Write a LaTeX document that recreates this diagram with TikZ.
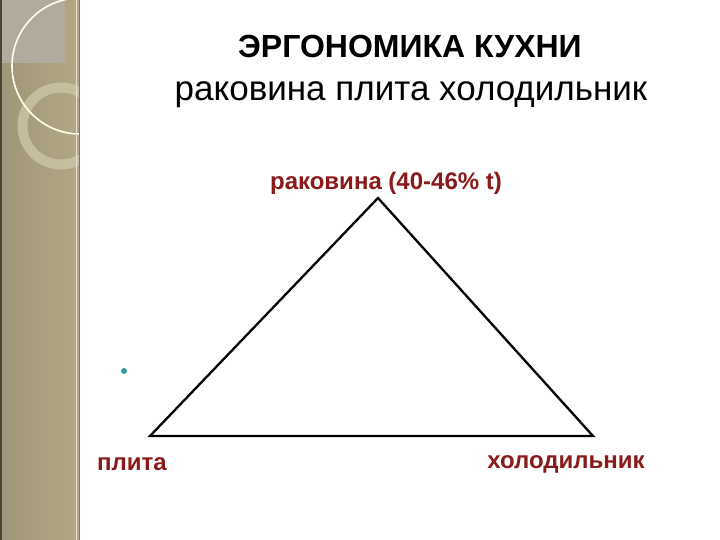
\documentclass[tikz,border=0pt]{standalone}
\usepackage{fontspec}
\setmainfont{Liberation Sans}
\definecolor{lbl}{HTML}{8B1A1A}
\definecolor{sidea}{HTML}{9F9678}
\definecolor{sideb}{HTML}{B3A785}
\definecolor{sidetop}{HTML}{B0AB9C}
\definecolor{ringc}{HTML}{CBC5A6}
\definecolor{dotc}{HTML}{3A9AA0}
\begin{document}
\begin{tikzpicture}[x=1pt,y=-1pt,
  lab/.style={text=lbl,font=\bfseries\fontsize{24}{28}\selectfont,inner sep=0pt},
  edge/.style={line width=2.3pt,black}]
\useasboundingbox (0,0) rectangle (720,540);
\fill[white] (0,0) rectangle (720,540);
% sidebar
\shade[left color=sidea, right color=sideb] (0,0) rectangle (79,540);
\fill[black!55!sidea] (0,0) rectangle (1.5,540);
\fill[sidetop] (1.5,0) rectangle (65,63);
\begin{scope}
\clip (0,0) rectangle (79,540);
\draw[line width=10pt, ringc, opacity=0.8] (61,126) circle (38.5);
\draw[line width=1.6pt, white!92!yellow] (80,66) circle (68);
\end{scope}
\draw[white!65!sideb, line width=0.5pt] (76,0) -- (76,540);
\draw[black!30!sideb, line width=0.8pt] (79,0) -- (79,540);
% titles
\node[font=\bfseries\fontsize{32}{36}\selectfont,inner sep=0pt] (title) at (410,46) {ЭРГОНОМИКА КУХНИ};
\node[font=\fontsize{35}{40}\selectfont,inner sep=0pt] (sub) at (411,95) {раковина плита холодильник};
% triangle
\coordinate (A) at (378,198);
\coordinate (B) at (150,436);
\coordinate (C) at (593,436);
\draw[edge,line join=miter] (B) -- (A) -- (C) -- cycle;
\node[lab] (sink) at (386,183) {раковина (40-46\% t)};
\node[lab] (stove) at (132,464) {плита};
\node[lab] (fridge) at (566,464) {холодильник};
\fill[dotc] (124,371) circle (3) coordinate (dot);
\end{tikzpicture}
\end{document}
